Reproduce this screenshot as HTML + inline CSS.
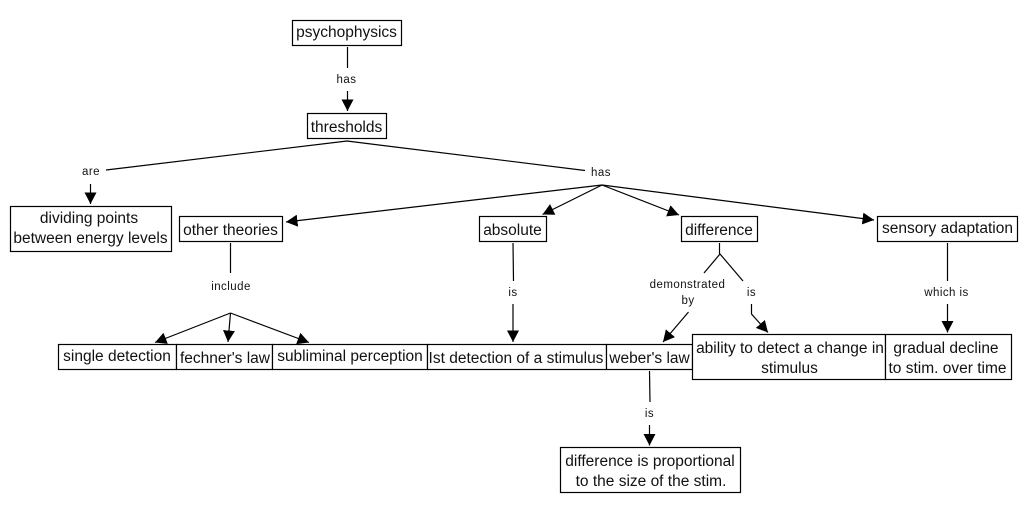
<!DOCTYPE html>
<html><head><meta charset="utf-8"><style>
html,body{margin:0;padding:0;background:#fff}
svg{display:block}
text{font-family:"Liberation Sans",sans-serif;fill:#111;text-anchor:middle}
.n{font-size:15.5px}
.l{font-size:11.5px;letter-spacing:.45px}
rect{fill:#fff;stroke:#000;stroke-width:1.2}
line,polyline{stroke:#000;stroke-width:1.2;fill:none}
</style></head><body>
<svg width="1028" height="512" viewBox="0 0 1028 512" xmlns="http://www.w3.org/2000/svg">
<defs><marker id="a" markerUnits="userSpaceOnUse" markerWidth="12" markerHeight="12" refX="11.5" refY="6" orient="auto"><polygon points="0,0 11.5,6 0,12" fill="#000"/></marker></defs>

<line x1="347.5" y1="47" x2="347.5" y2="68"/>
<line x1="347.5" y1="91" x2="347.5" y2="111" marker-end="url(#a)"/>
<polyline points="106,170 347,141 585,170.5"/>
<line x1="90.5" y1="184" x2="90.5" y2="204" marker-end="url(#a)"/>
<line x1="602" y1="185" x2="286" y2="222" marker-end="url(#a)"/>
<line x1="602" y1="185" x2="542.5" y2="214.5" marker-end="url(#a)"/>
<line x1="602" y1="185" x2="679" y2="215" marker-end="url(#a)"/>
<line x1="602" y1="185" x2="874" y2="220" marker-end="url(#a)"/>
<line x1="230.5" y1="243" x2="230.5" y2="273"/>
<line x1="230.5" y1="313" x2="155" y2="342.5" marker-end="url(#a)"/>
<line x1="230.5" y1="313" x2="228" y2="342" marker-end="url(#a)"/>
<line x1="230.5" y1="313" x2="309" y2="342.5" marker-end="url(#a)"/>
<line x1="513" y1="243" x2="513.5" y2="281"/>
<line x1="513" y1="304" x2="513" y2="342" marker-end="url(#a)"/>
<line x1="719.5" y1="243" x2="719.5" y2="254"/>
<polyline points="704,273 720,254 743,281"/>
<line x1="688.5" y1="312" x2="663" y2="342" marker-end="url(#a)"/>
<polyline points="751.5,304 751.5,314 768,332.5" marker-end="url(#a)"/>
<line x1="947.5" y1="243" x2="947.5" y2="281"/>
<line x1="947.5" y1="304" x2="947.5" y2="332.5" marker-end="url(#a)"/>
<line x1="649.5" y1="371" x2="650" y2="402"/>
<line x1="649.5" y1="425" x2="649.5" y2="445.5" marker-end="url(#a)"/>

<rect x="292.5" y="20.5" width="109" height="25"/>
<rect x="307.5" y="113.5" width="79" height="25"/>
<rect x="10.5" y="206.5" width="161" height="45"/>
<rect x="179.5" y="216.5" width="103" height="25"/>
<rect x="479.5" y="216.5" width="67" height="25"/>
<rect x="681.5" y="216.5" width="76" height="25"/>
<rect x="877.5" y="216.5" width="140" height="25"/>
<rect x="58.5" y="344.5" width="118" height="25"/>
<rect x="176.5" y="344.5" width="96" height="25"/>
<rect x="272.5" y="344.5" width="155" height="25"/>
<rect x="427.5" y="344.5" width="179" height="25"/>
<rect x="606.5" y="344.5" width="86" height="25"/>
<rect x="692.5" y="334.5" width="193" height="45"/>
<rect x="885.5" y="334.5" width="126" height="45"/>
<rect x="560.5" y="447.5" width="180" height="45"/>

<text class="n" x="346.5" y="37">psychophysics</text>
<text class="n" x="346.5" y="132">thresholds</text>
<text class="n" x="89" y="223">dividing points</text>
<text class="n" x="90.5" y="243">between energy levels</text>
<text class="n" x="230.5" y="235">other theories</text>
<text class="n" x="512.5" y="235">absolute</text>
<text class="n" x="719" y="235">difference</text>
<text class="n" x="947.5" y="233">sensory adaptation</text>
<text class="n" x="117" y="361">single detection</text>
<text class="n" x="225" y="363">fechner's law</text>
<text class="n" x="350" y="361">subliminal perception</text>
<text class="n" x="516" y="363">Ist detection of a stimulus</text>
<text class="n" x="649.5" y="363">weber's law</text>
<text class="n" x="790" y="353">ability to detect a change in</text>
<text class="n" x="789.5" y="373">stimulus</text>
<text class="n" x="946" y="353">gradual decline</text>
<text class="n" x="947.5" y="373">to stim. over time</text>
<text class="n" x="650" y="466">difference is proportional</text>
<text class="n" x="651" y="486">to the size of the stim.</text>

<text class="l" x="346.5" y="83">has</text>
<text class="l" x="91" y="175">are</text>
<text class="l" x="601" y="176">has</text>
<text class="l" x="231" y="290">include</text>
<text class="l" x="513" y="296">is</text>
<text class="l" x="687.5" y="288">demonstrated</text>
<text class="l" x="688" y="304">by</text>
<text class="l" x="751.5" y="296">is</text>
<text class="l" x="946.5" y="296">which is</text>
<text class="l" x="649.5" y="417">is</text>
</svg>
</body></html>
